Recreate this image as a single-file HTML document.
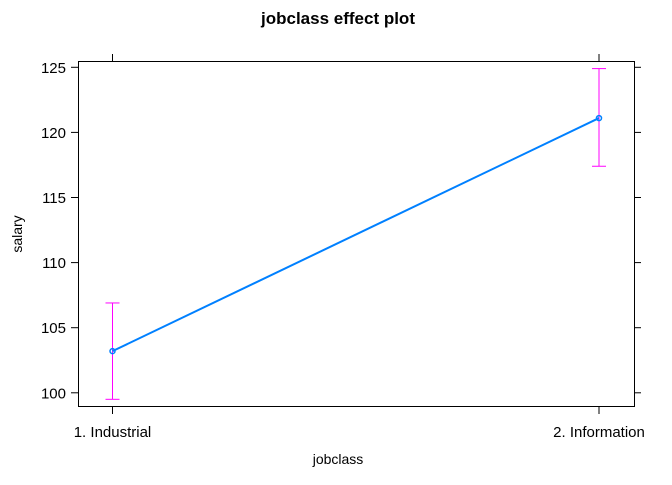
<!DOCTYPE html>
<html><head><meta charset="utf-8"><style>
body{margin:0;background:#fff;font-family:"Liberation Sans",Arial,sans-serif}
</style></head><body>
<svg width="672" height="480" xmlns="http://www.w3.org/2000/svg">
<text x="338" y="24" text-anchor="middle" font-size="17" font-weight="bold" font-family="Liberation Sans">jobclass effect plot</text>
<rect x="78.5" y="61.5" width="556" height="345" fill="none" stroke="#000" stroke-width="1"/>
<g id="axes" font-size="15" font-family="Liberation Sans"></g>
<text x="338" y="464" text-anchor="middle" font-size="14">jobclass</text>
<text transform="translate(22,234) rotate(-90)" text-anchor="middle" font-size="14">salary</text>
<g id="marks"></g>
</svg>
<script>
const categories=["1. Industrial","2. Information"];
const fitValues=[103.2,121.1];
const lowerCI=[99.5,117.4];
const upperCI=[106.9,124.9];
const yTicks=[100,105,110,115,120,125];
const NS="http://www.w3.org/2000/svg";
function yS(v){return 67.3+(125-v)*13.02;}
function xS(i){return 112.5+i*486.5;}
function mk(t,a,p){const e=document.createElementNS(NS,t);for(const k in a)e.setAttribute(k,a[k]);p.appendChild(e);return e;}
const ax=document.getElementById('axes'),mg=document.getElementById('marks');
yTicks.forEach(v=>{const y=yS(v);
 let l=mk('line',{x1:71,x2:78,y1:y,y2:y,stroke:'#000'},ax);
 
 
 let r=mk('line',{x1:634,x2:641,y1:y,y2:y,stroke:'#000'},ax);
 
 
 let t=mk('text',{x:66,y:y+5.5,'text-anchor':'end'},ax);t.textContent=v;
 
 
});
categories.forEach((c,i)=>{const x=xS(i);
 let b=mk('line',{x1:x,x2:x,y1:407,y2:414,stroke:'#000'},ax);
 
 
 let tp=mk('line',{x1:x,x2:x,y1:54,y2:61,stroke:'#000'},ax);
 
 
 let t=mk('text',{x:x,y:437,'text-anchor':'middle'},ax);t.textContent=c;
 
 
});
categories.forEach((c,i)=>{const x=xS(i),y1=yS(lowerCI[i]),y2=yS(upperCI[i]);
 const g=mk('g',{stroke:'#ff00ff','stroke-width':1},mg);
 
 
 mk('line',{x1:x,x2:x,y1:y1,y2:y2},g);
 mk('line',{x1:x-7,x2:x+7,y1:y1,y2:y1},g);
 mk('line',{x1:x-7,x2:x+7,y1:y2,y2:y2},g);
});
const pts=fitValues.map((v,i)=>xS(i)+','+yS(v)).join(' ');
const pl=mk('polyline',{points:pts,fill:'none',stroke:'#0080ff','stroke-width':2},mg);


fitValues.forEach((v,i)=>{const c=mk('circle',{cx:xS(i),cy:yS(v),r:2.5,fill:'none',stroke:'#0080ff','stroke-width':1.5},mg);
 
 
});
</script>
</body></html>
